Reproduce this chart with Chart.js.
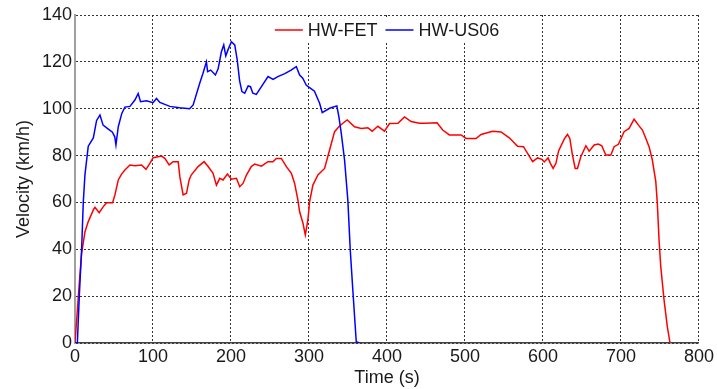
<!DOCTYPE html>
<html>
<head>
<meta charset="utf-8">
<script src="https://cdn.jsdelivr.net/npm/chart.js@4/dist/chart.umd.min.js"></script>
<style>
  html, body { margin: 0; padding: 0; background: #fff; }
  #chart { display: block; }
</style>
</head>
<body>
<canvas id="chart" width="717" height="389"></canvas>
<script>
"use strict";

// HW-FET drive cycle (time s, speed km/h)
const fetTime = [0, 1, 3, 5.5, 8.5, 12.8, 17, 23.5, 25.6, 31, 36.3, 40.5, 48.2, 51.2, 55.5, 59.7, 64, 70.4,
  76.8, 85.3, 91, 96, 100.2, 111, 115.2, 120.7, 125.8, 132.3, 134.4, 138.6, 143, 146.3, 149, 157.8, 165.5,
  170.7, 177, 181.3, 185.6, 189.8, 195.4, 200.5, 207, 211.2, 215.4, 219.8, 226, 230.4, 239, 247.4, 253.8,
  258.1, 264.5, 271, 277.4, 281.6, 285.8, 288, 292.3, 295.3, 298.6, 300.8, 305, 311.4, 320, 326.4, 332.8,
  338.3, 343.4, 349, 358.4, 367, 375.4, 381, 388.3, 396.8, 403.2, 414, 422.4, 431, 441.6, 448, 464.2, 471.4,
  480, 495, 501.4, 514.2, 520.6, 535.4, 546.2, 556.8, 567.4, 575, 581, 586.7, 593, 598.6, 601.6, 606.5,
  609.5, 613, 616.6, 620, 627.2, 631.4, 634.4, 637.8, 641.3, 644.2, 648.5, 655, 659.2, 665.6, 671, 675.4,
  680.5, 687, 691.2, 696.7, 704, 710.4, 716.8, 722.4, 727.5, 731, 736, 740.2, 744.6, 746.6, 748.8, 751,
  755.2, 759.4, 762.9];
const fetSpeed = [0, 0, 14, 25.5, 38.3, 47.5, 51.8, 56.8, 57.9, 55.6, 58.2, 59.9, 59.9, 63.2, 69.6, 72.1, 73.8, 76,
  75.7, 76, 74.1, 76.7, 79.1, 79.8, 78.8, 76, 77.4, 77.4, 71, 63.2, 63.9, 69.6, 71.7, 75.3, 77.4,
  75.3, 72.4, 67.4, 70.3, 69.6, 72.1, 69.9, 70.3, 66.7, 68.1, 71.7, 75.3, 76.4, 75.5, 77.4, 77.4,
  78.8, 78.8, 75.3, 72.4, 68.1, 61, 56, 51.1, 46.1, 52.5, 60.3, 67.4, 71.7, 74.5, 82.4, 90.2,
  92.3, 93.8, 95.2, 92.3, 91.6, 91.9, 90.4, 92.5, 90.4, 93.7, 93.8, 96.5, 94.5, 93.8, 93.8, 94, 90.9,
  88.8, 88.8, 87.3, 87.3, 89, 90.4, 90.1, 87.6, 84, 83.8, 80.5, 77.4, 79, 78.4, 77.3, 79,
  76.7, 74.5, 76.7, 82, 87, 89, 87.3, 80.2, 74.5, 74.5, 79.5, 84.2, 81.9, 84.5, 84.9, 84.2,
  80.2, 80.2, 83.8, 84.8, 90.2, 91.6, 95.5, 93, 90.9, 88, 83.8, 78.1, 69, 59.6, 44, 32.6,
  18.4, 7, 0];

// HW-US06 drive cycle
const us06Time = [0, 3, 5.5, 8.5, 10.6, 12.8, 17, 23.5, 27.7, 32, 36, 42.7, 48, 51, 52.5, 55.5, 60, 64, 70.4,
  76.8, 81, 84, 91.7, 100, 104.5, 108.8, 121.6, 134, 147, 151.5, 160, 164, 168.5, 170, 174, 180, 183.5,
  187.7, 190.7, 193.3, 196, 200.5, 204.8, 208, 211, 214, 217.6, 222, 225, 228, 232.5, 239, 247.5, 254,
  260, 269, 277, 283.7, 288, 292, 296.6, 300.8, 307, 313.6, 317, 326.4, 335.7, 338.3, 341.4, 345.6,
  349.8, 352.9, 356.2, 360.6, 364.8];
const us06Speed = [0, 0, 20, 40, 60, 72, 84, 87.5, 95, 97.3, 93, 91.3, 90, 88, 84.5, 92.3, 98, 100.7, 101,
  103.7, 106.5, 103, 103.4, 102.6, 104.4, 102.7, 101, 100.4, 100, 101.6, 111, 115, 120, 115.8, 116.5, 114.4, 117,
  124.3, 127.2, 122.5, 125, 128.6, 127.2, 120.8, 112, 107.3, 106.6, 109.7, 109.4, 106.6, 106.1, 109.4, 113.7, 112.5,
  113.7, 115, 116.5, 118, 114.4, 113, 110, 109, 107.5, 102.3, 98.3, 100.2, 101.2, 96.6, 89.5, 78.1,
  61, 39.7, 22.6, 0.5, 0];

const xTicks = [0, 100, 200, 300, 400, 500, 600, 700, 800];
const yTicks = [0, 20, 40, 60, 80, 100, 120, 140];

const FONT = { family: '"Liberation Sans", Arial, sans-serif', size: 18 };
const INK = "#1a1a1a";

function points(xs, ys) { return xs.map((x, i) => ({ x, y: ys[i] })); }

// MATLAB-style legend sitting inside the top of the plot, on a white patch
const insideLegend = {
  id: "insideLegend",
  afterDatasetsDraw(chart) {
    const { ctx, chartArea } = chart;
    const lineW = 28, gapText = 5, gapItem = 8;
    ctx.save();
    ctx.font = `${FONT.size}px ${FONT.family}`;
    const items = chart.data.datasets.map((ds) => ({
      label: ds.label, color: ds.borderColor, w: ctx.measureText(ds.label).width }));
    const total = items.reduce((s, it) => s + lineW + gapText + it.w, 0) + gapItem * (items.length - 1);
    let x = (chartArea.left + chartArea.right) / 2 - total / 2;
    const y = chartArea.top + 15;
    ctx.fillStyle = "#fff";
    ctx.fillRect(x - 10, chartArea.top + 2, total + 20, 26);
    ctx.textBaseline = "middle";
    items.forEach((it) => {
      ctx.strokeStyle = it.color; ctx.lineWidth = 1.5;
      ctx.beginPath(); ctx.moveTo(x, y); ctx.lineTo(x + lineW, y); ctx.stroke();
      x += lineW + gapText;
      ctx.fillStyle = INK;
      ctx.fillText(it.label, x, y + 1);
      x += it.w + gapItem;
    });
    ctx.restore();
  },
};

new Chart(document.getElementById("chart"), {
  type: "line",
  data: {
    datasets: [
      { label: "HW-FET", data: points(fetTime, fetSpeed), borderColor: "#ff0000", order: 1 },
      { label: "HW-US06", data: points(us06Time, us06Speed), borderColor: "#0000ff", order: 0 },
    ],
  },
  options: {
    responsive: false,
    animation: false,
    devicePixelRatio: 1,
    layout: { padding: { top: 15, right: 17, bottom: 0, left: 0 } },
    elements: { point: { radius: 0 }, line: { borderWidth: 1.5, tension: 0 } },
    plugins: { legend: { display: false }, tooltip: { enabled: false } },
    scales: {
      x: {
        type: "linear", min: 0, max: 800,
        afterBuildTicks: (s) => { s.ticks = xTicks.map((v) => ({ value: v })); },
        afterFit: (s) => { s.height = 46; },
        ticks: { color: INK, font: FONT, padding: 3, maxRotation: 0 },
        grid: { color: "#333", drawTicks: false, lineWidth: 1 },
        border: { color: "#404040", width: 1.5, dash: [2, 2] },
        title: { display: true, text: "Time (s)", color: INK, font: FONT, padding: { top: 0, bottom: 0 } },
      },
      y: {
        min: 0, max: 140,
        afterBuildTicks: (s) => { s.ticks = yTicks.map((v) => ({ value: v })); },
        afterFit: (s) => { s.width = 75; },
        ticks: { color: INK, font: FONT, padding: 3 },
        grid: { color: "#333", drawTicks: false, lineWidth: 1 },
        border: { color: "#a0a0a0", width: 2, dash: [2, 2] },
        title: { display: true, text: "Velocity (km/h)", color: INK, font: FONT, padding: { top: 13, bottom: 0 } },
      },
    },
  },
  plugins: [insideLegend],
});
</script>
</body>
</html>
